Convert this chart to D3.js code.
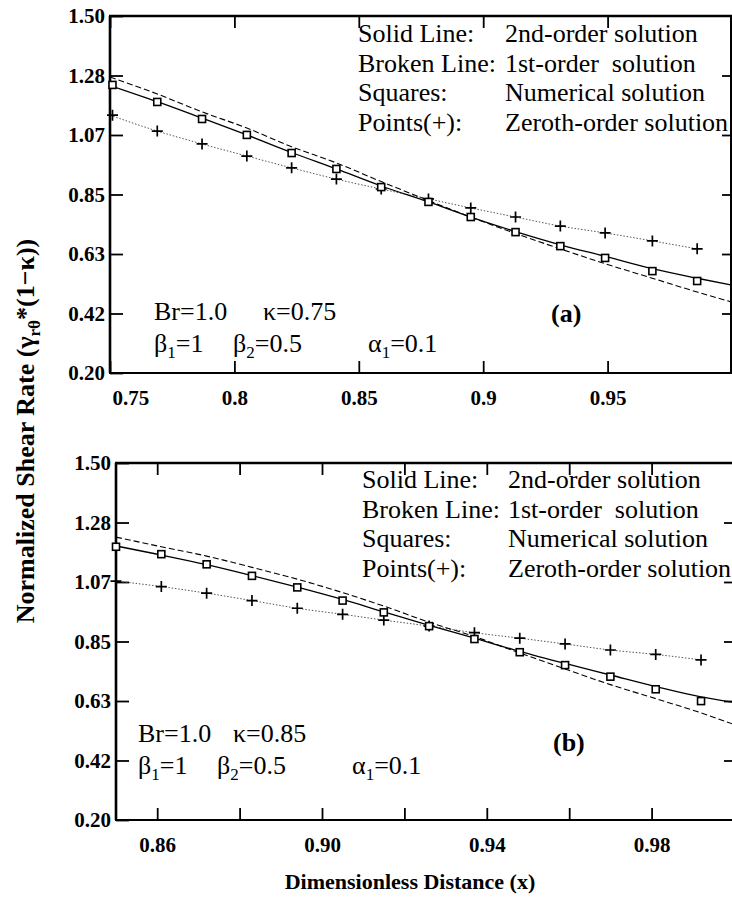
<!DOCTYPE html>
<html>
<head>
<meta charset="utf-8">
<script src="https://cdn.jsdelivr.net/npm/d3@7"></script>
<style>
body { margin: 0; background: #fff; }
</style>
</head>
<body>
<script>
var w = 732;
var h = 905;
var serif = "Liberation Serif";

// shared y ticks (7 evenly spaced from 0.2 to 1.5)
var yTicks = [0.20, 0.4167, 0.6333, 0.85, 1.0667, 1.2833, 1.50];
var yLabels = ["0.20", "0.42", "0.63", "0.85", "1.07", "1.28", "1.50"];

var legendKeys = ["Solid Line:", "Broken Line:", "Squares:", "Points(+):"];
var legendDesc = ["2nd-order solution", "1st-order  solution", "Numerical solution", "Zeroth-order solution"];

// panel (a), kappa = 0.75
var xTicksA = [0.75, 0.80, 0.85, 0.90, 0.95];
var xLabelsA = ["0.75", "0.8", "0.85", "0.9", "0.95"];
var ptsXA = [0.751, 0.769, 0.787, 0.805, 0.823, 0.841, 0.859, 0.878, 0.895, 0.913, 0.931, 0.949, 0.968, 0.986];
var numA = [1.249, 1.187, 1.125, 1.067, 1.001, 0.943, 0.877, 0.823, 0.768, 0.713, 0.662, 0.619, 0.571, 0.535];
var zeroA = [1.139, 1.081, 1.034, 0.990, 0.947, 0.906, 0.870, 0.834, 0.801, 0.768, 0.735, 0.710, 0.681, 0.652];
var lineXA = [0.75, 0.769, 0.787, 0.805, 0.823, 0.841, 0.859, 0.878, 0.895, 0.913, 0.931, 0.949, 0.968, 0.986, 1.0];
var secondA = [1.247, 1.188, 1.128, 1.067, 1.003, 0.943, 0.881, 0.823, 0.768, 0.715, 0.667, 0.625, 0.580, 0.545, 0.520];
var firstA = [1.278, 1.216, 1.151, 1.092, 1.024, 0.965, 0.897, 0.828, 0.768, 0.708, 0.652, 0.598, 0.545, 0.495, 0.458];

// panel (b), kappa = 0.85
var xTicksB = [0.86, 0.88, 0.90, 0.92, 0.94, 0.96, 0.98];
var xLabelsB = ["0.86", "", "0.90", "", "0.94", "", "0.98"];
var ptsXB = [0.850, 0.861, 0.872, 0.883, 0.894, 0.905, 0.915, 0.926, 0.937, 0.948, 0.959, 0.970, 0.981, 0.992];
var numB = [1.195, 1.168, 1.131, 1.089, 1.047, 0.999, 0.956, 0.906, 0.859, 0.811, 0.764, 0.722, 0.676, 0.633];
var zeroB = [1.070, 1.050, 1.026, 0.999, 0.971, 0.949, 0.928, 0.906, 0.882, 0.862, 0.841, 0.819, 0.803, 0.783];
var lineXB = [0.85, 0.861, 0.872, 0.883, 0.894, 0.905, 0.915, 0.926, 0.937, 0.948, 0.959, 0.970, 0.981, 0.992, 1.0];
var secondB = [1.198, 1.165, 1.130, 1.090, 1.048, 1.003, 0.958, 0.909, 0.862, 0.814, 0.770, 0.728, 0.686, 0.648, 0.628];
var firstB = [1.230, 1.195, 1.161, 1.120, 1.077, 1.028, 0.979, 0.920, 0.868, 0.808, 0.750, 0.693, 0.642, 0.590, 0.548];

var svg = d3.select("body")
  .append("svg")
  .attr("width", w)
  .attr("height", h)
  .style("font-family", serif);

function txt(sel, x, y, size, bold) {
  return sel.append("text")
    .attr("x", x).attr("y", y)
    .style("font-family", serif)
    .style("font-size", size + "px")
    .style("font-weight", bold ? "bold" : "normal")
    .attr("fill", "#000");
}

var panels = [
  { id: "a", left: 110, right: 732, top: 16, bottom: 373, domain: [0.75, 1.0],
    xTicks: xTicksA, xLabels: xLabelsA, ptsX: ptsXA, num: numA, zero: zeroA,
    lineX: lineXA, second: secondA, first: firstA,
    legKeyX: 358, legDescX: 505, legY: 42,
    notes: [
      { x: 154, y: 320, t: [["Br=1.0"]] },
      { x: 263, y: 320, t: [["κ=0.75"]] },
      { x: 154, y: 352, t: [["β"], ["1", "sub"], ["=1"]] },
      { x: 233, y: 352, t: [["β"], ["2", "sub"], ["=0.5"]] },
      { x: 368, y: 352, t: [["α"], ["1", "sub"], ["=0.1"]] }
    ],
    tag: "(a)", tagX: 551, tagY: 322, labelY: 405 },
  { id: "b", left: 116, right: 734, top: 463, bottom: 820, domain: [0.85, 1.0],
    xTicks: xTicksB, xLabels: xLabelsB, ptsX: ptsXB, num: numB, zero: zeroB,
    lineX: lineXB, second: secondB, first: firstB,
    legKeyX: 362, legDescX: 508, legY: 488,
    notes: [
      { x: 138, y: 742, t: [["Br=1.0"]] },
      { x: 233, y: 742, t: [["κ=0.85"]] },
      { x: 138, y: 774, t: [["β"], ["1", "sub"], ["=1"]] },
      { x: 217, y: 774, t: [["β"], ["2", "sub"], ["=0.5"]] },
      { x: 352, y: 774, t: [["α"], ["1", "sub"], ["=0.1"]] }
    ],
    tag: "(b)", tagX: 553, tagY: 751, labelY: 852 }
];

panels.forEach(function(p) {
  var x = d3.scaleLinear().domain(p.domain).range([p.left, p.right]);
  var y = d3.scaleLinear().domain([0.2, 1.5]).range([p.bottom, p.top]);
  var g = svg.append("g");

  g.append("clipPath").attr("id", "clip-" + p.id)
    .append("rect")
    .attr("x", p.left).attr("y", p.top)
    .attr("width", p.right - p.left).attr("height", p.bottom - p.top);

  // inward ticks on all four sides
  var left = g.append("g")
    .attr("transform", "translate(" + p.left + ",0)")
    .call(d3.axisLeft(y).tickValues(yTicks).tickSize(-13).tickSizeOuter(0)
      .tickPadding(5).tickFormat(function(d, i) { return yLabels[i]; }));
  g.append("g")
    .attr("transform", "translate(" + p.right + ",0)")
    .call(d3.axisRight(y).tickValues(yTicks.slice(1, 6)).tickSize(-10).tickSizeOuter(0)
      .tickFormat(""));
  g.append("g")
    .attr("transform", "translate(0," + p.top + ")")
    .call(d3.axisTop(x).tickValues(p.xTicks).tickSize(-12).tickSizeOuter(0).tickFormat(""));
  var bottom = g.append("g")
    .attr("transform", "translate(0," + p.bottom + ")")
    .call(d3.axisBottom(x).tickValues(p.xTicks).tickSize(-12).tickSizeOuter(0)
      .tickPadding(0).tickFormat(function(d, i) { return p.xLabels[i]; }));

  g.selectAll(".domain").remove();
  g.selectAll(".tick line").attr("stroke", "#000").attr("stroke-width", 1.8);

  left.selectAll("text")
    .style("font-family", serif).style("font-size", "21px").style("font-weight", "bold");
  bottom.selectAll("text")
    .style("font-family", serif).style("font-size", "21px").style("font-weight", "bold")
    .attr("y", p.labelY - p.bottom).attr("dy", 0)
    .attr("text-anchor", function(d) { return d === p.domain[0] ? "start" : "middle"; })
    .attr("dx", function(d) { return d === p.domain[0] ? 2 : 0; });

  // frame
  var frame = [
    [p.left, p.top, p.left, p.bottom, 2.6],
    [p.left - 1, p.top, p.right, p.top, 2.6],
    [p.left - 1, p.bottom, p.right, p.bottom, 2.2],
    [p.right - 1, p.top, p.right - 1, p.bottom, 2]
  ];
  g.selectAll("line.frame").data(frame).enter().append("line")
    .attr("class", "frame")
    .attr("x1", function(d) { return d[0]; }).attr("y1", function(d) { return d[1]; })
    .attr("x2", function(d) { return d[2]; }).attr("y2", function(d) { return d[3]; })
    .attr("stroke", "#000").attr("stroke-width", function(d) { return d[4]; });

  var plot = g.append("g").attr("clip-path", "url(#clip-" + p.id + ")");
  var line = d3.line().curve(d3.curveMonotoneX)
    .x(function(d) { return x(d[0]); })
    .y(function(d) { return y(d[1]); });

  // zeroth-order dotted line through the + points
  plot.append("path")
    .attr("d", line(d3.zip([p.domain[0]].concat(p.ptsX.slice(1)), p.zero)))
    .attr("fill", "none").attr("stroke", "#555").attr("stroke-width", 1)
    .attr("stroke-dasharray", "1.5,1.8");
  // first-order broken line
  plot.append("path")
    .attr("d", line(d3.zip(p.lineX, p.first)))
    .attr("fill", "none").attr("stroke", "#000").attr("stroke-width", 1.1)
    .attr("stroke-dasharray", "6,3");
  // second-order solid line
  plot.append("path")
    .attr("d", line(d3.zip(p.lineX, p.second)))
    .attr("fill", "none").attr("stroke", "#000").attr("stroke-width", 1.3);

  // zeroth-order points (+)
  g.selectAll("path.plus").data(d3.zip(p.ptsX, p.zero)).enter().append("path")
    .attr("class", "plus")
    .attr("d", function(d) {
      var cx = x(d[0]), cy = y(d[1]);
      return "M" + (cx - 5.5) + "," + cy + "H" + (cx + 5.5) + "M" + cx + "," + (cy - 5.5) + "V" + (cy + 5.5);
    })
    .attr("stroke", "#000").attr("stroke-width", 1.7);

  // numerical solution (open squares)
  g.selectAll("rect.sq").data(d3.zip(p.ptsX, p.num)).enter().append("rect")
    .attr("class", "sq")
    .attr("x", function(d) { return x(d[0]) - 3.5; })
    .attr("y", function(d) { return y(d[1]) - 3.5; })
    .attr("width", 7).attr("height", 7)
    .attr("fill", "#fff").attr("stroke", "#000").attr("stroke-width", 1.6);

  // legend text
  legendKeys.forEach(function(k, i) {
    txt(g, p.legKeyX, p.legY + i * 29.5, 26).text(k);
    txt(g, p.legDescX, p.legY + i * 29.5, 26).style("white-space", "pre").text(legendDesc[i]);
  });

  // parameter notes
  p.notes.forEach(function(n) {
    var t = txt(g, n.x, n.y, 26);
    n.t.forEach(function(part, j) {
      var s = t.append("tspan").text(part[0]);
      if (part[1] === "sub") s.style("font-size", "17px").attr("dy", 6);
      else if (j > 0 && n.t[j - 1][1] === "sub") s.attr("dy", -6);
    });
  });

  txt(g, p.tagX, p.tagY, 26, true).text(p.tag);
});

// axis titles
txt(svg, 410, 889, 22, true)
  .attr("text-anchor", "middle")
  .text("Dimensionless Distance (x)");

var yt = txt(svg, 0, 0, 26, true)
  .attr("transform", "translate(34,431) rotate(-90)")
  .attr("text-anchor", "middle");
yt.append("tspan").text("Normalized Shear Rate (γ");
yt.append("tspan").style("font-size", "17px").attr("dy", 6).text("rθ");
yt.append("tspan").attr("dy", -6).text("*(1−κ))");
</script>
</body>
</html>
